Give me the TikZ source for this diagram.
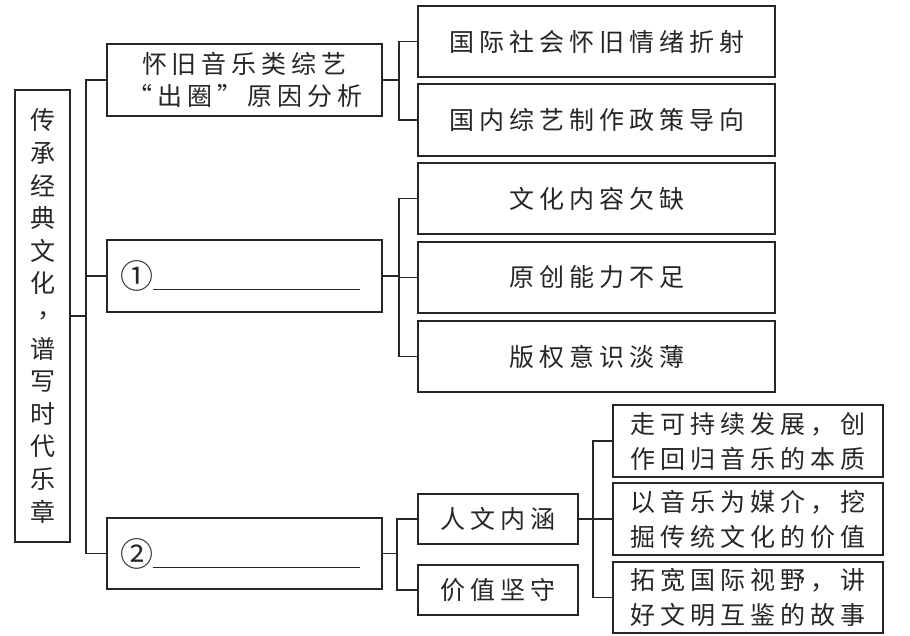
\documentclass[tikz,border=0pt]{standalone}
\usepackage{fontspec}
\newfontfamily\cjk[LetterSpace=20]{Noto Sans CJK SC}
\newfontfamily\cjkv{Noto Sans CJK SC}
\colorlet{ink}{black!85}
\newcommand{\blankline}[1]{{\fontsize{33}{33}\selectfont #1}\rule[-1.5pt]{207pt}{1pt}}
\begin{document}
\begin{tikzpicture}[x=1pt,y=-1pt,
  box/.style={draw=ink, line width=1.3pt, inner sep=0pt, align=center, text=ink,
              font=\cjk\fontsize{25}{32}\selectfont},
  blankbox/.style={box, minimum width=275pt, inner xsep=13pt, text width=249pt,
              align=left, font=\cjkv\fontsize{25}{32}\selectfont},
  conn/.style={draw=ink, line width=1.3pt}]
\useasboundingbox (0,0) rectangle (910,636);
% left title
\node[box, minimum width=55pt, minimum height=452pt,
      font=\cjkv\fontsize{25}{32.6}\selectfont] (L) at (42.5,316)
  {传\\承\\经\\典\\文\\化\\\makebox[1em][l]{\hspace{0.32em}\raisebox{0.3em}{，}}\\谱\\写\\时\\代\\乐\\章};
% second level
\node[box, minimum width=275pt, minimum height=72pt] (A) at (244.5,80)
  {怀旧音乐类综艺\\“出圈”原因分析};
\node[blankbox, minimum height=72pt] (C1) at (244.5,276) {\blankline{①}};
\node[blankbox, minimum height=71pt] (C2) at (244.5,553.5) {\blankline{②}};
% right boxes
\node[box, minimum width=357pt, minimum height=71pt] (R1) at (596.5,41.5) {国际社会怀旧情绪折射};
\node[box, minimum width=357pt, minimum height=72pt] (R2) at (596.5,120) {国内综艺制作政策导向};
\node[box, minimum width=357pt, minimum height=71pt] (R3) at (596.5,198.5) {文化内容欠缺};
\node[box, minimum width=357pt, minimum height=71pt] (R4) at (596.5,277.5) {原创能力不足};
\node[box, minimum width=357pt, minimum height=71pt] (R5) at (596.5,356.5) {版权意识淡薄};
% bottom
\node[box, minimum width=160pt, minimum height=50pt] (H) at (498,519) {人文内涵};
\node[box, minimum width=160pt, minimum height=50pt] (V) at (498,590) {价值坚守};
\node[box, minimum width=270pt, minimum height=72pt, font=\cjk\fontsize{25}{35}\selectfont] (B1) at (748,441)
  {走可持续发展，创\\作回归音乐的本质};
\node[box, minimum width=270pt, minimum height=72pt, font=\cjk\fontsize{25}{35}\selectfont] (B2) at (748,519)
  {以音乐为媒介，挖\\掘传统文化的价值};
\node[box, minimum width=270pt, minimum height=71pt, font=\cjk\fontsize{25}{35}\selectfont] (B3) at (748,597.5)
  {拓宽国际视野，讲\\好文明互鉴的故事};
% connectors
\coordinate (t) at (86,0);
\coordinate (b) at (399,0);
\coordinate (c) at (397,0);
\coordinate (d) at (593,0);
\draw[conn] (L.east) -- (L.east -| t);
\draw[conn] (A.west) -- (A.west -| t) |- (C2.west);
\draw[conn] (C1.west) -- (C1.west -| t);
\draw[conn] (A.east) -- (A.east -| b);
\draw[conn] (R1.west) -- (R1.west -| b) |- (R2.west);
\draw[conn] (C1.east) -- (C1.east -| b);
\draw[conn] (R3.west) -- (R3.west -| b) |- (R5.west);
\draw[conn] (R4.west) -- (R4.west -| b);
\draw[conn] (C2.east) -- (C2.east -| c);
\draw[conn] (H.west) -- (H.west -| c) |- (V.west);
\draw[conn] (H.east) -- (H.east -| d);
\draw[conn] (B1.west) -- (B1.west -| d) |- (B3.west);
\draw[conn] (B2.west) -- (B2.west -| d);
\end{tikzpicture}
\end{document}
